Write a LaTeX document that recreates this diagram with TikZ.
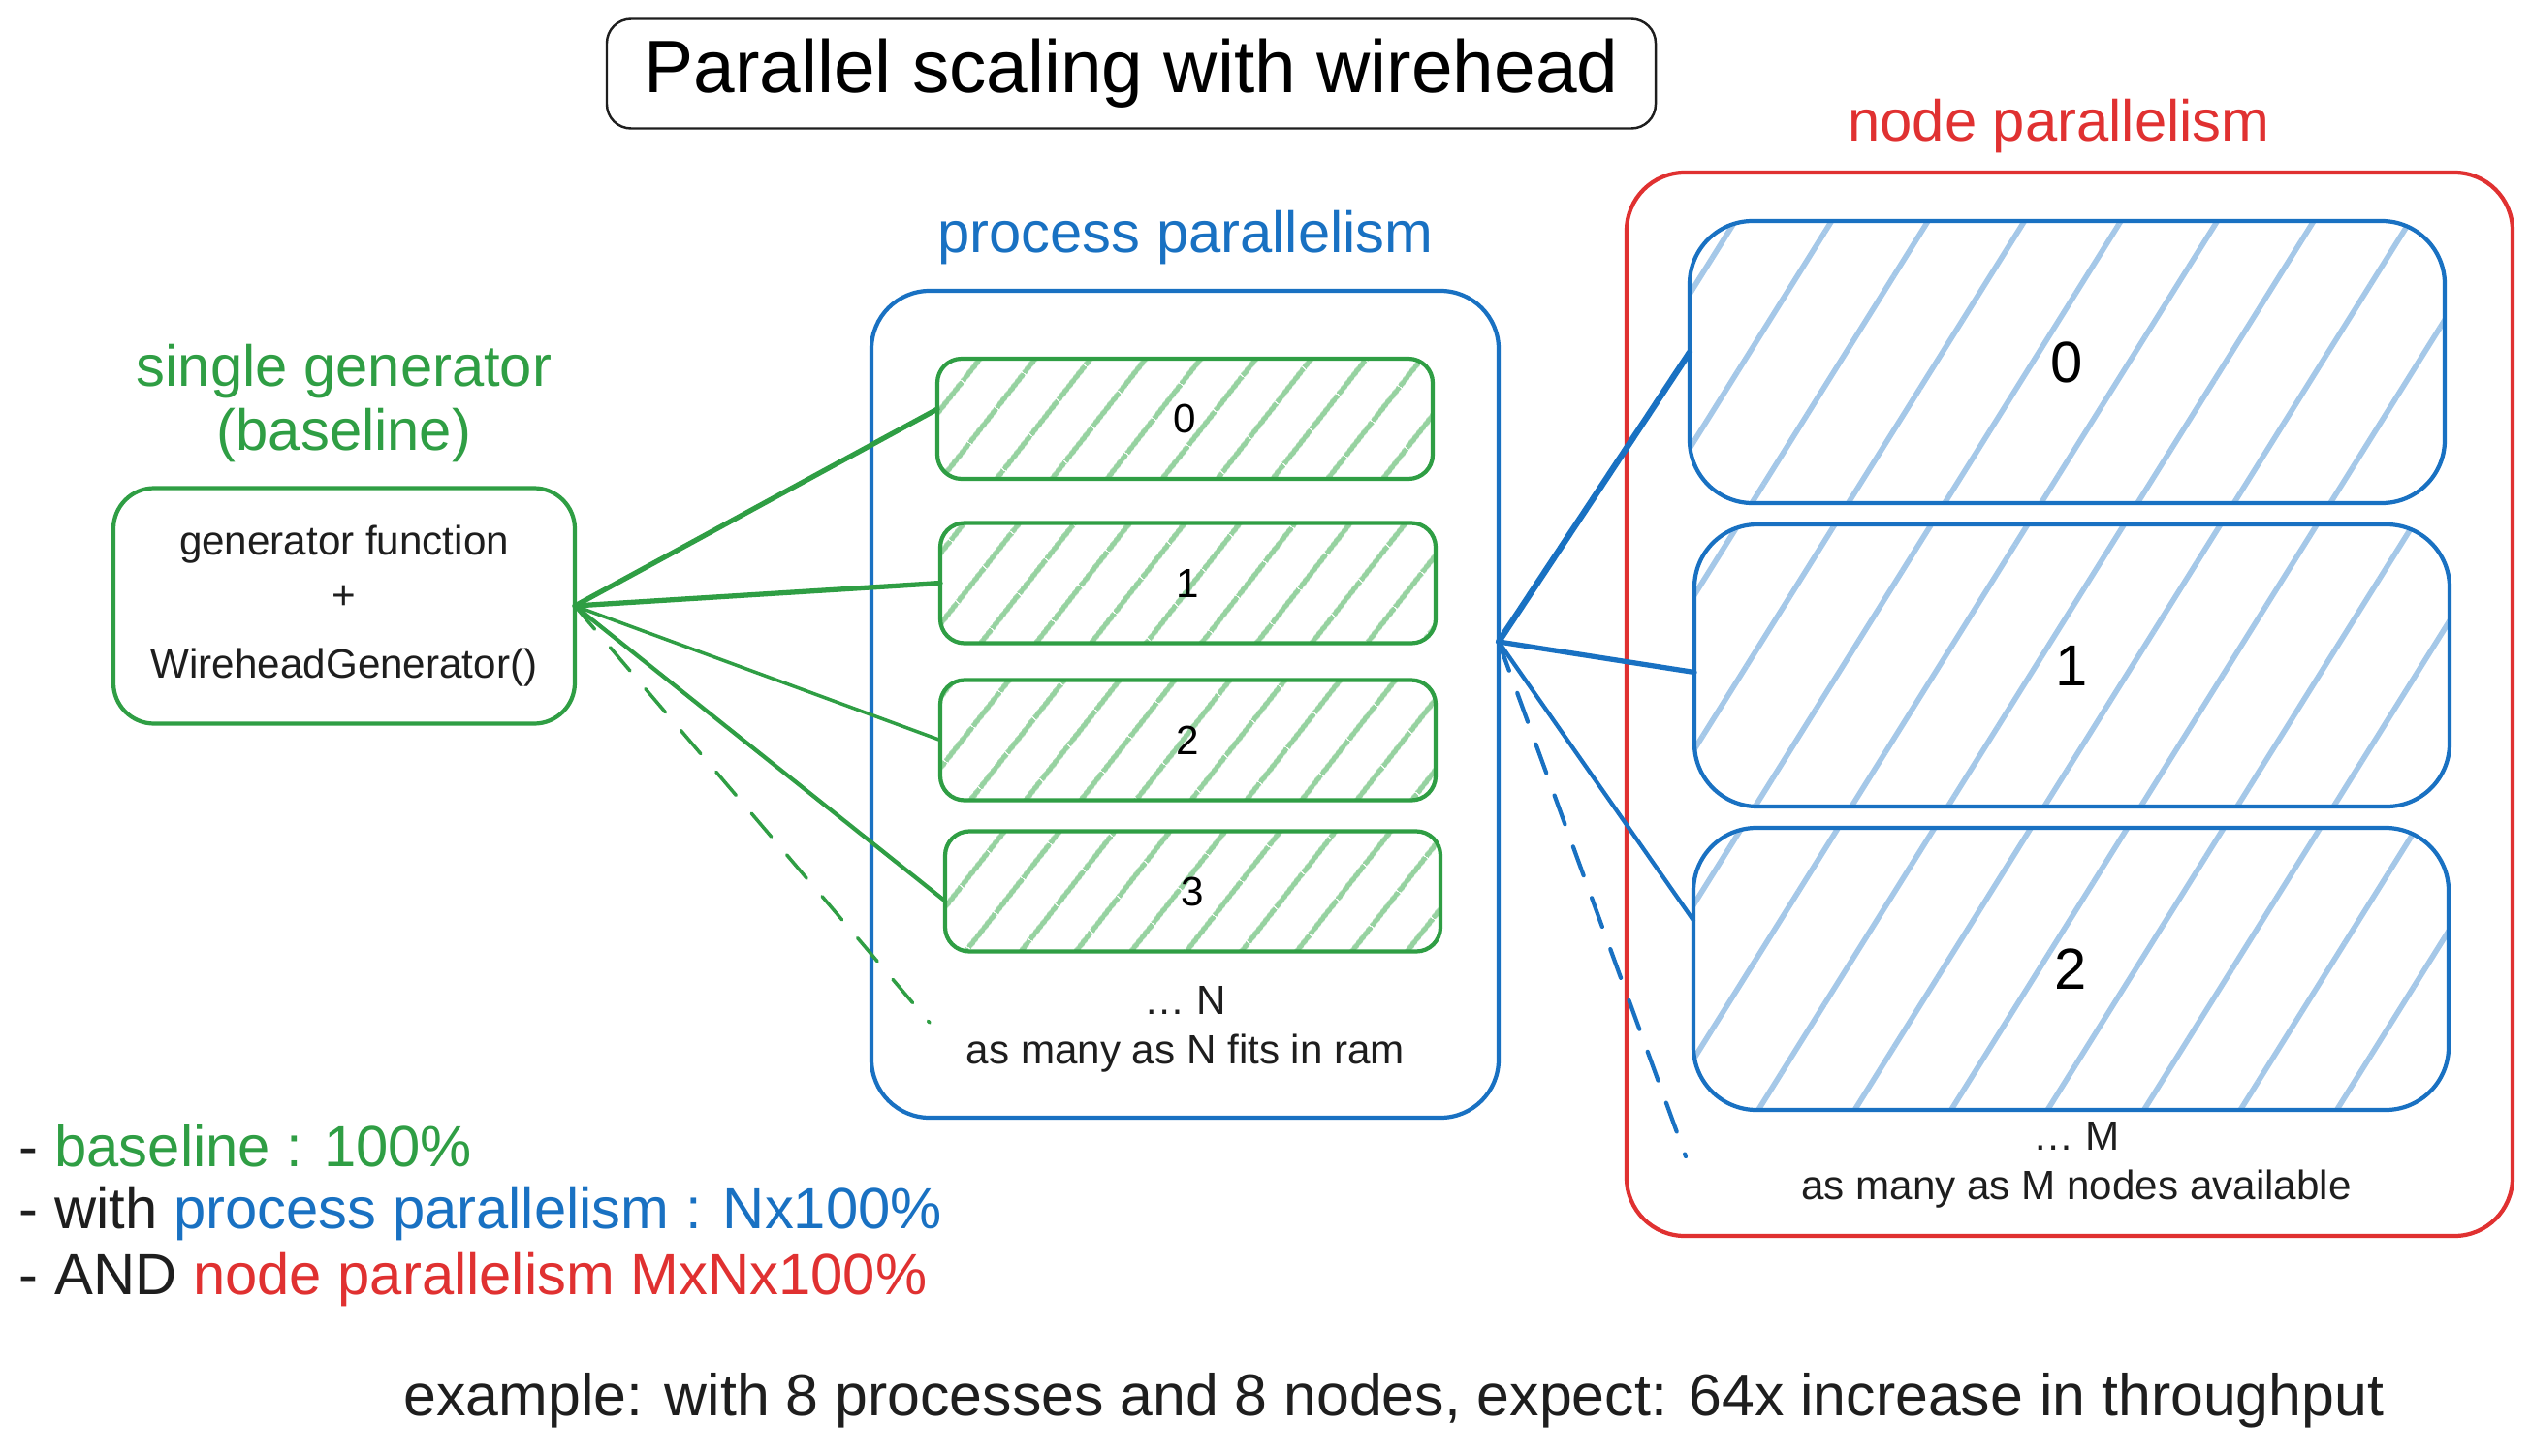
\documentclass[tikz,border=0pt]{standalone}
\usepackage{fontspec}
\setmainfont{Liberation Sans}
\usetikzlibrary{patterns.meta}
\definecolor{xgreen}{HTML}{2F9E44}
\definecolor{xblue}{HTML}{1971C2}
\definecolor{xred}{HTML}{E03131}
\definecolor{ghatch}{HTML}{96D2A0}
\definecolor{bhatch}{HTML}{A5C8E8}
\definecolor{xblack}{HTML}{1E1E1E}
\begin{document}
\begin{tikzpicture}[inner sep=0pt,outer sep=0pt,line join=round,line cap=round,
titlebox/.style={draw=xblack,rounded corners=0.25cm,line width=0.7pt,minimum width=10.82cm,minimum height=1.13cm,font=\fontsize{21.8}{26}\selectfont},
genbox/.style={draw=xgreen,rounded corners=0.42cm,line width=1.2pt,minimum width=4.76cm,minimum height=2.43cm,align=center,font=\fontsize{12}{16}\selectfont},
procbox/.style={draw=xblue,rounded corners=0.6cm,line width=1.2pt,minimum width=6.47cm,minimum height=8.53cm},
nodebox/.style={draw=xred,rounded corners=0.6cm,line width=1.2pt,minimum width=9.14cm,minimum height=10.97cm},
gslot/.style={draw=xgreen,rounded corners=0.25cm,line width=1.2pt,minimum width=5.11cm,minimum height=1.24cm,
  pattern={Lines[angle=52,distance=13pt,line width=1.6pt]},pattern color=ghatch,font=\fontsize{12}{14}\selectfont},
bslot/.style={draw=xblue,rounded corners=0.65cm,line width=1.2pt,minimum width=7.79cm,minimum height=2.91cm,
  pattern={Lines[angle=58,distance=24pt,line width=1.6pt]},pattern color=bhatch,font=\fontsize{17}{20}\selectfont},
label/.style={align=center,font=\fontsize{17}{19}\selectfont},
note/.style={align=center,text=xblack,font=\fontsize{12}{14.5}\selectfont},
glink/.style={draw=xgreen,line width=1.5pt},
blink/.style={draw=xblue,line width=1.5pt}]
\useasboundingbox (0,0) rectangle (26.1,-15.01);
% title
\draw (11.67,-0.76) node[titlebox] (title) {Parallel scaling with wirehead};
% single generator
\draw (3.55,-4.16) node[label,text=xgreen] (genlabel) {single generator\\(baseline)};
\draw (3.55,-6.25) node[genbox,text=xblack] (gen) {generator function\\+\\[4pt]WireheadGenerator()};
% process parallelism
\draw (12.23,-2.45) node[label,text=xblue] (proclabel) {process parallelism};
\draw (12.225,-7.265) node[procbox] (proc) {};
\draw (12.225,-4.32) node[gslot] (g0) {0};
\draw (12.255,-6.015) node[gslot] (g1) {1};
\draw (12.255,-7.635) node[gslot] (g2) {2};
\draw (12.305,-9.195) node[gslot] (g3) {3};
\draw (12.23,-10.62) node[note] (ntext) {\dots\ N\\as many as N fits in ram};
% node parallelism
\draw (21.24,-1.30) node[label,text=xred] (nodelabel) {node parallelism};
\draw (21.35,-7.265) node[nodebox] (cluster) {};
\draw (21.325,-3.735) node[bslot] (b0) {0};
\draw (21.375,-6.865) node[bslot] (b1) {1};
\draw (21.365,-9.995) node[bslot] (b2) {2};
\draw (21.42,-12.02) node[note] (mtext) {\dots\ M\\as many as M nodes available};
% connectors
\coordinate (hub) at (15.46,-6.62);
\coordinate (gmore) at (9.59,-10.55);
\coordinate (bmore) at (17.39,-11.93);
\draw[glink] (gen.east) -- ([yshift=1mm]g0.west);
\draw[glink] (gen.east) -- (g1.west);
\draw[glink,line width=1pt] (gen.east) -- (g2.west);
\draw[glink,line width=1.2pt] (gen.east) -- ([yshift=-1mm]g3.west);
\draw[glink,line width=1pt,dash pattern=on 9pt off 7pt] (gen.east) -- (gmore);
\draw[blink,line width=1.8pt] (hub) -- ([yshift=1mm]b0.west);
\draw[blink] (hub) -- ([yshift=-0.7mm]b1.west);
\draw[blink,line width=1.2pt] (hub) -- ([yshift=5mm]b2.west);
\draw[blink,line width=1.2pt,dash pattern=on 9pt off 7pt] (hub) -- (bmore);
% summary
\draw (0.2,-11.82) node[label,anchor=west,text=xblack] (sum1) {- \textcolor{xgreen}{baseline : 100\%}};
\draw (0.2,-12.52) node[label,anchor=west,text=xblack] (sum2) {- with \textcolor{xblue}{process parallelism : Nx100\%}};
\draw (0.2,-13.20) node[label,anchor=west,text=xblack] (sum3) {- AND \textcolor{xred}{node parallelism MxNx100\%}};
\draw (14.38,-14.45) node[label,text=xblack,font=\fontsize{17.3}{19}\selectfont] (example) {example: with 8 processes and 8 nodes, expect: 64x increase in throughput};
\end{tikzpicture}
\end{document}
